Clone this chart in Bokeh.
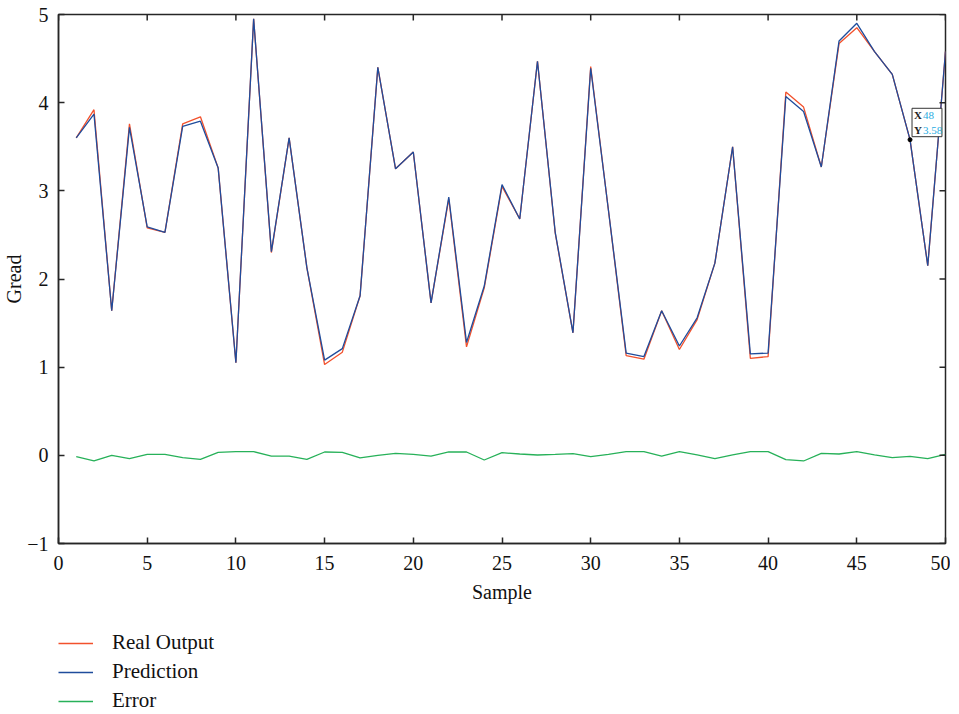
import math
from bokeh.plotting import figure
from bokeh.layouts import column
from bokeh.models import (Legend, LegendItem, Label, FixedTicker, Range1d)
from bokeh.embed import file_html
from bokeh.resources import INLINE

samples = list(range(1, 51))
real_output = [3.60, 3.92, 1.64, 3.76, 2.58, 2.53, 3.76, 3.84, 3.26, 1.05,
               4.95, 2.30, 3.60, 2.13, 1.03, 1.17, 1.81, 4.40, 3.25, 3.44,
               1.73, 2.91, 1.23, 1.90, 3.05, 2.68, 4.47, 2.52, 1.39, 4.41,
               2.78, 1.13, 1.09, 1.64, 1.20, 1.54, 2.18, 3.50, 1.10, 1.12,
               4.12, 3.95, 3.27, 4.67, 4.85, 4.58, 4.32, 3.58, 2.15, 4.58]
prediction = [3.60, 3.87, 1.64, 3.72, 2.59, 2.53, 3.73, 3.79, 3.26, 1.05,
              4.95, 2.31, 3.60, 2.13, 1.08, 1.21, 1.81, 4.40, 3.25, 3.44,
              1.73, 2.93, 1.28, 1.92, 3.07, 2.68, 4.47, 2.53, 1.39, 4.39,
              2.78, 1.16, 1.12, 1.64, 1.24, 1.56, 2.18, 3.50, 1.15, 1.16,
              4.07, 3.90, 3.27, 4.70, 4.90, 4.58, 4.32, 3.58, 2.15, 4.58]
error = [-0.015, -0.064, 0.0, -0.038, 0.011, 0.011, -0.026, -0.045, 0.034, 0.042,
         0.042, -0.008, -0.008, -0.045, 0.038, 0.034, -0.030, 0.0, 0.023, 0.011,
         -0.008, 0.038, 0.038, -0.053, 0.030, 0.015, 0.004, 0.011, 0.019, -0.015,
         0.011, 0.042, 0.042, -0.008, 0.042, 0.004, -0.038, 0.004, 0.042, 0.042,
         -0.049, -0.064, 0.023, 0.015, 0.042, 0.004, -0.026, -0.011, -0.038, 0.011]
x_ticks = [0, 5, 10, 15, 20, 25, 30, 35, 40, 45, 50]
y_ticks = [-1, 0, 1, 2, 3, 4, 5]
series_names = ["Real Output", "Prediction", "Error"]
tip_index = 47

FONT = "Liberation Serif"
AXC = "#262626"
COLORS = ["#f2512c", "#1f4c9c", "#27b159"]
series = [real_output, prediction, error]

p = figure(frame_width=887, frame_height=529, output_backend="svg", toolbar_location=None,
           x_range=Range1d(x_ticks[0], x_ticks[-1]), y_range=Range1d(y_ticks[0], y_ticks[-1]),
           min_border_left=52, min_border_right=5, min_border_top=14,
           min_border_bottom=65, x_axis_label="Sample", y_axis_label="Gread")
p.grid.visible = False
p.outline_line_color = AXC
p.outline_line_width = 1.5

for ys, c in zip(series, COLORS):
    p.line(samples, ys, line_color=c, line_width=1.3)

# inward ticks on the top and right edges (half of each dash is clipped by the frame)
p.scatter(x_ticks, [y_ticks[-1]] * len(x_ticks), marker="dash", angle=math.pi / 2,
          size=12, line_color=AXC, line_width=1.5)
p.scatter([x_ticks[-1]] * len(y_ticks), y_ticks, marker="dash", angle=0,
          size=12, line_color=AXC, line_width=1.5)

p.xaxis.ticker = FixedTicker(ticks=x_ticks)
p.yaxis.ticker = FixedTicker(ticks=y_ticks)
for ax in p.xaxis + p.yaxis:
    ax.axis_line_color = AXC
    ax.axis_line_width = 1.5
    ax.major_tick_line_color = AXC
    ax.major_tick_line_width = 1.5
    ax.major_tick_in = 6
    ax.major_tick_out = 0
    ax.minor_tick_line_color = None
    ax.major_label_text_font = FONT
    ax.major_label_text_font_size = "20px"
    ax.major_label_text_color = "#111111"
    ax.axis_label_text_font = FONT
    ax.axis_label_text_font_size = "20px"
    ax.axis_label_text_font_style = "normal"
    ax.axis_label_text_color = "#111111"
p.xaxis.major_label_standoff = 12
p.yaxis.major_label_standoff = 10
p.xaxis.axis_label_standoff = 8
p.yaxis.axis_label_standoff = -1

# data tip
tx = samples[tip_index]
ty = prediction[tip_index]
p.scatter([tx], [ty], size=4, color="black")
box = Label(x=tx, y=ty, x_offset=2, y_offset=3, text="X\nY",
            text_font=FONT, text_font_size="11px", text_font_style="bold",
            text_color="#222222", background_fill_color="white",
            border_line_color="#333333", border_line_width=1,
            padding=dict(left=2, right=20, top=1, bottom=1))
p.add_layout(box)
vals = Label(x=tx, y=ty, x_offset=13, y_offset=4, text=f"{tx}\n{ty:.2f}",
             text_font=FONT, text_font_size="11px", text_color="#29abe2")
p.add_layout(vals)

# legend panel below the chart (its series sit outside its hidden ranges)
lg = figure(width=944, height=110, output_backend="svg", toolbar_location=None,
            x_range=Range1d(-20, -10), y_range=Range1d(-20, -10), min_border=0,
            x_axis_type=None, y_axis_type=None, outline_line_color=None)
lg.grid.visible = False
items = []
for name, ys, c in zip(series_names, series, COLORS):
    r = lg.line(samples, ys, line_color=c, line_width=1.3)
    items.append(LegendItem(label=name, renderers=[r]))
legend = Legend(items=items, location=(0, 5), orientation="vertical",
                border_line_color=None, background_fill_alpha=0,
                label_text_font=FONT, label_text_font_size="21px",
                label_text_color="#111111",
                glyph_width=35, glyph_height=24, label_height=24,
                spacing=4, label_standoff=19, padding=0, margin=0)
lg.add_layout(legend)

layout = column(p, lg, spacing=0)
open("out.html", "w").write(file_html(layout, INLINE))
